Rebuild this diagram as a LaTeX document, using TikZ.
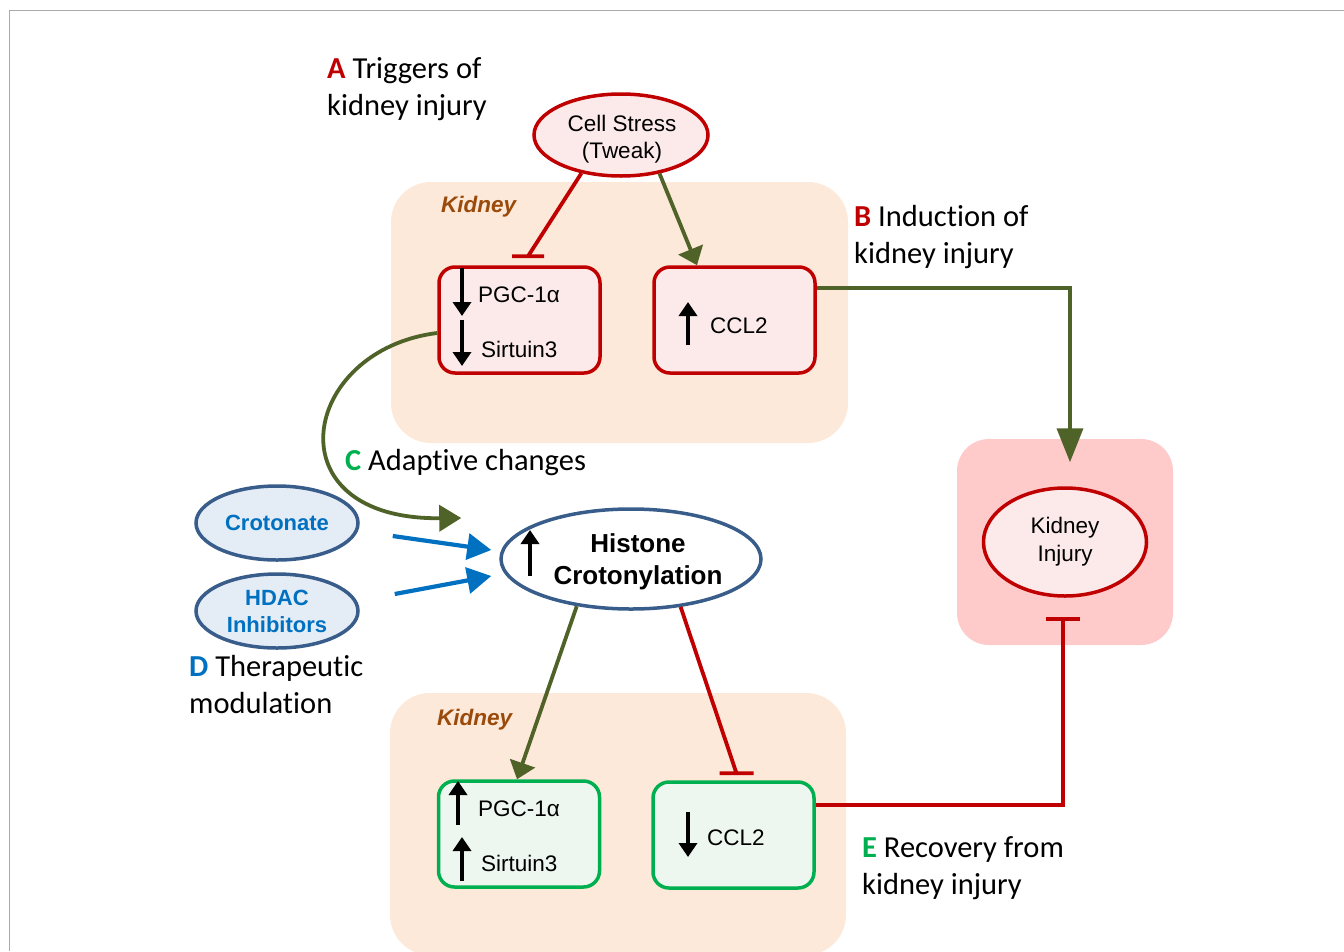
\documentclass[tikz,border=0pt]{standalone}
\usepackage{fontspec}
\setmainfont{Liberation Sans}
\newfontfamily\labfont[Ligatures={NoCommon}]{Carlito}
\usetikzlibrary{arrows.meta,shapes.geometric,calc}
\definecolor{dred}{HTML}{C00000}
\definecolor{olivec}{HTML}{4F6228}
\definecolor{myblue}{HTML}{0070C0}
\definecolor{dblue}{HTML}{385D8A}
\definecolor{mygreen}{HTML}{00B050}
\definecolor{peach}{HTML}{FDE9D9}
\definecolor{pinkpanel}{HTML}{FECACA}
\definecolor{pinkfill}{HTML}{FCEAEA}
\definecolor{greenfill}{HTML}{EDF6EF}
\definecolor{bluefill}{HTML}{E4ECF6}
\definecolor{brown}{HTML}{9A4A0A}
\definecolor{framegray}{HTML}{AAAAAA}
\begin{document}
\begin{tikzpicture}[x=1pt,y=-1pt,
  panel/.style={fill=#1, rounded corners=40pt, inner sep=0pt},
  rbox/.style={draw=dred, fill=pinkfill, line width=3.5pt, rounded corners=16pt, minimum width=161pt, minimum height=106pt, inner sep=0pt},
  gbox/.style={draw=mygreen, fill=greenfill, line width=3.5pt, rounded corners=16pt, minimum width=161pt, minimum height=106pt, inner sep=0pt},
  ell/.style={ellipse, inner sep=0pt, line width=3.5pt, align=center},
  lab/.style={font=\labfont\fontsize{30.5}{37}\selectfont, align=left, inner sep=0pt},
  txt/.style={font=\fontsize{22.5}{27}\selectfont, inner sep=0pt},
  kid/.style={font=\fontsize{22.5}{27}\selectfont\bfseries\itshape, text=brown, inner sep=0pt},
  act/.style={line width=3.8pt, draw=olivec, -{Triangle[width=26pt,length=17pt]}},
  inh/.style={line width=3.8pt, draw=dred},
  blu/.style={line width=4.2pt, draw=myblue, -{Triangle[width=26pt,length=24pt]}},
  ar/.style={line width=4pt, -{Triangle[width=18pt,length=14pt]}}
]
\useasboundingbox (0,0) rectangle (1344,951);
% frame
\draw[framegray, line width=1.2pt] (9.5,951) -- (9.5,10.5) -- (1344,10.5);

% panels
\node[panel=peach, minimum width=457pt, minimum height=261pt] (k1) at (619.5,312.5) {};
\node[panel=peach, minimum width=456pt, minimum height=262pt] (k2) at (618,824) {};
\node[panel=pinkpanel, rounded corners=32pt, minimum width=216pt, minimum height=206pt] (kp) at (1065,542) {};
\node[kid, anchor=base west] (k1l) at (441,212) {Kidney};
\node[kid, anchor=base west] (k2l) at (437,725) {Kidney};

% labels (base = last line)
\node[lab, anchor=base west] (la) at (327,115) {{\color{dred}\bfseries A} Triggers of\\kidney injury};
\node[lab, anchor=base west] (lb) at (854,263) {{\color{dred}\bfseries B} Induction of\\kidney injury};
\node[lab, anchor=base west] (lc) at (345,470) {{\color{mygreen}\bfseries C} Adaptive changes};
\node[lab, anchor=base west] (ld) at (189,713) {{\color{myblue}\bfseries D} Therapeutic\\modulation};
\node[lab, anchor=base west] (le) at (862,894) {{\color{mygreen}\bfseries E} Recovery from\\kidney injury};

% ellipses
\node[ell, draw=dred, fill=pinkfill, minimum width=174pt, minimum height=82pt] (cs) at (621,135) {};
\node[font=\fontsize{22.5}{27}\selectfont, align=center, inner sep=0pt] (cst) at (622,139) {Cell Stress\\(Tweak)};
\node[ell, draw=dred, fill=pinkfill, minimum width=163pt, minimum height=108pt, font=\fontsize{22.5}{28}\selectfont] (ki) at (1065,542) {Kidney\\Injury};
\node[ell, draw=dblue, fill=white, minimum width=260pt, minimum height=100pt] (hc) at (631,559) {};
\node[font=\fontsize{26}{32}\selectfont\bfseries, align=center, inner sep=0pt] (hct) at (638,562) {Histone\\Crotonylation};
\node[ell, draw=dblue, fill=bluefill, minimum width=162pt, minimum height=74pt, font=\fontsize{22}{27}\selectfont\bfseries, text=myblue] (cr) at (277,523) {Crotonate};
\node[ell, draw=dblue, fill=bluefill, minimum width=162pt, minimum height=74pt, font=\fontsize{22}{27}\selectfont\bfseries, text=myblue] (hd) at (277,611) {HDAC\\Inhibitors};

% boxes
\node[rbox] (tl) at (519.5,320) {};
\node[rbox] (tr) at (734.5,320) {};
\node[gbox] (bl) at (519,834) {};
\node[gbox] (br) at (733.5,835) {};

\node[txt, anchor=base west] (t1) at (478,302) {PGC-1α};
\node[txt, anchor=base west] (t2) at (481,357) {Sirtuin3};
\node[txt, anchor=base west] (t3) at (710,333) {CCL2};
\node[txt, anchor=base west] (t4) at (478,816) {PGC-1α};
\node[txt, anchor=base west] (t5) at (481,871) {Sirtuin3};
\node[txt, anchor=base west] (t6) at (707,845) {CCL2};

% small up/down arrows
\draw[ar] (462,268) -- (462,316);
\draw[ar] (462,320) -- (462,366);
\draw[ar] (688,345) -- (688,302);
\draw[ar] (530,576) -- (530,530);
\draw[ar] (458,825) -- (458,781);
\draw[ar] (462,881) -- (462,837);
\draw[ar] (688,812) -- (688,857);

% connectors
\coordinate (b1) at ($(tl.north)+(8.5,-9)$);
\draw[inh] (cs.224) -- (b1) ($(b1)+(-16,0)$) -- ($(b1)+(16,0)$);
\draw[act] (cs.-45) -- ($(tr.north)+(-37.5,0)$);
\draw[act, -{Triangle[width=26pt,length=34pt]}] ($(tr.east)+(0,-32)$) -| ($(ki.north)+(5,-24)$);
\draw[act, -{Triangle[width=26pt,length=22pt]}] ($(tl.west)+(0,13)$) .. controls (300,350) and (270,520) .. ($(hc.west)+(-38,-41)$);
\draw[blu] ($(cr.east)+(33,13)$) -- ($(hc.west)+(-8,-9)$);
\draw[blu] ($(hd.east)+(35,-17)$) -- ($(hc.west)+(-8,17)$);
\draw[act] (hc.221) -- ($(bl.north)+(-2,0)$);
\coordinate (b2) at ($(br.north)+(3,-7)$);
\draw[inh] (hc.-44) -- (b2) ($(b2)+(-17,0)$) -- ($(b2)+(17,0)$);
\coordinate (b3) at ($(ki.south)+(-2,21)$);
\draw[inh] ($(br.east)+(0,-30)$) -| (b3) ($(b3)+(-17,0)$) -- ($(b3)+(17,0)$);
\end{tikzpicture}
\end{document}
